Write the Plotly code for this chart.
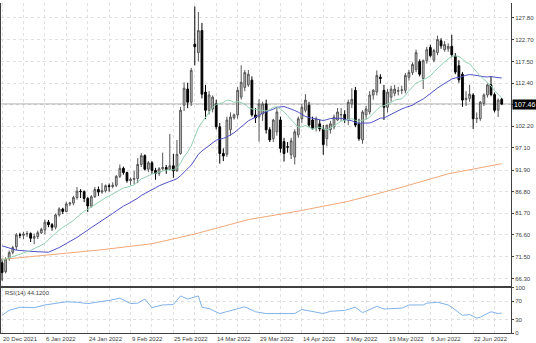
import plotly.graph_objects as go
import pandas as pd

# ---------------- data ----------------
opens = [70.0, 67.9, 71.0, 72.5, 73.8, 76.6, 76.5, 76.8, 76.9, 75.8,
         76.2, 77.1, 77.8, 79.6, 79.0, 78.4, 81.3, 82.7, 82.1, 83.9,
         84.1, 85.4, 86.9, 86.8, 85.2, 83.4, 85.6, 87.3, 86.7, 87.0,
         88.2, 88.0, 88.3, 90.4, 92.3, 91.3, 89.4, 89.7, 89.9, 93.2,
         95.3, 92.1, 93.6, 91.8, 91.1, 92.2, 92.5, 92.0, 92.9, 91.7,
         95.8, 107.2, 111.0, 107.9, 121.6, 119.6, 124.8, 110.3, 106.0, 106.3,
         107.5, 102.1, 95.8, 95.6, 101.4, 104.2, 104.9, 109.1, 111.4, 112.0,
         113.1, 104.9, 104.4, 105.1, 107.5, 101.4, 99.3, 100.9, 103.7, 98.6,
         97.4, 95.5, 95.0, 100.2, 104.0, 106.0, 107.2, 103.7, 101.9, 102.8,
         101.6, 99.3, 101.4, 102.1, 103.7, 104.9, 105.0, 103.7, 107.5, 110.7,
         102.8, 99.0, 104.9, 105.6, 109.6, 110.3, 113.8, 110.7, 106.7, 109.1,
         110.0, 110.5, 110.7, 110.7, 113.8, 114.9, 115.6, 117.5, 113.5, 117.7,
         120.8, 117.8, 119.6, 122.4, 120.3, 120.5, 121.1, 118.8, 116.5, 114.5,
         108.5, 108.8, 109.6, 104.0, 104.0, 107.6, 109.6, 112.0, 109.7, 106.0,
         108.6]
highs = [71.0, 71.3, 72.9, 74.0, 77.0, 77.1, 77.3, 77.5, 77.2, 76.9,
         77.6, 78.3, 80.2, 80.1, 79.4, 81.6, 83.1, 83.0, 84.4, 84.4,
         85.8, 87.9, 87.4, 87.1, 85.5, 86.0, 87.9, 88.0, 88.8, 88.5,
         88.7, 89.0, 90.7, 93.2, 92.7, 91.5, 90.1, 91.7, 94.7, 95.9,
         95.6, 94.0, 94.0, 92.4, 92.6, 96.0, 93.1, 100.4, 95.7, 99.0,
         106.8, 112.6, 112.5, 116.0, 130.5, 129.2, 126.6, 112.0, 110.5, 109.5,
         108.5, 103.0, 97.0, 104.5, 105.5, 105.2, 111.5, 116.6, 115.5, 115.5,
         114.0, 106.5, 108.6, 108.0, 108.5, 102.0, 104.0, 106.5, 104.5, 99.5,
         98.5, 99.5, 101.5, 104.5, 107.5, 109.8, 108.0, 104.5, 104.5, 103.8,
         102.5, 102.5, 103.5, 105.0, 106.5, 106.5, 106.0, 108.5, 111.2, 111.5,
         104.0, 106.0, 107.0, 110.5, 111.0, 115.4, 114.5, 112.0, 111.0, 111.8,
         112.0, 111.5, 111.8, 114.8, 115.5, 117.3, 120.3, 118.0, 118.0, 121.0,
         121.5, 120.5, 123.6, 123.0, 122.3, 121.8, 123.8, 119.5, 117.8, 115.0,
         110.5, 112.0, 110.0, 105.5, 108.2, 110.0, 112.3, 114.0, 110.2, 108.8,
         108.9]
lows = [65.8, 67.5, 70.5, 72.0, 73.0, 75.8, 75.6, 76.1, 74.9, 74.4,
        75.6, 76.8, 76.7, 78.4, 77.6, 77.9, 80.9, 81.5, 81.9, 83.4,
        83.6, 84.9, 85.3, 84.3, 82.0, 83.0, 85.3, 85.8, 86.3, 86.6,
        86.8, 87.6, 87.9, 90.0, 90.8, 88.9, 88.4, 88.5, 88.8, 92.6,
        91.8, 91.4, 91.0, 89.6, 90.5, 91.8, 91.0, 91.9, 90.1, 91.5,
        95.5, 105.8, 106.5, 107.0, 116.6, 117.5, 108.8, 103.9, 105.0, 105.5,
        101.5, 93.4, 94.0, 95.0, 100.0, 103.8, 104.0, 108.5, 110.5, 111.5,
        104.5, 103.0, 98.6, 103.5, 100.5, 98.5, 98.5, 100.0, 96.0, 93.9,
        96.0, 94.5, 93.2, 99.5, 103.0, 105.5, 102.0, 101.5, 101.0, 101.0,
        95.5, 97.5, 100.5, 101.5, 103.5, 103.5, 103.0, 102.5, 106.5, 102.0,
        98.8, 98.1, 104.0, 105.0, 108.5, 109.5, 112.3, 103.7, 105.5, 108.0,
        109.3, 109.5, 109.8, 110.0, 113.0, 114.3, 115.0, 114.0, 111.0, 117.0,
        118.5, 117.3, 119.0, 120.5, 119.8, 119.8, 118.5, 114.5, 112.5, 106.8,
        107.0, 108.0, 101.6, 103.0, 103.5, 107.0, 109.0, 109.3, 105.5, 104.4,
        107.2]
closes = [67.7, 70.9, 72.4, 73.6, 76.6, 76.5, 76.8, 76.9, 75.8, 76.2,
          77.1, 77.9, 79.6, 79.0, 78.4, 81.3, 82.7, 82.1, 83.9, 84.1,
          85.4, 86.9, 86.8, 85.2, 83.4, 85.6, 87.3, 86.7, 87.0, 88.2,
          88.0, 88.3, 90.4, 92.3, 91.3, 89.4, 89.7, 89.9, 93.2, 95.3,
          92.1, 93.6, 91.8, 91.1, 92.2, 92.5, 92.0, 92.9, 91.7, 95.6,
          106.0, 111.2, 107.9, 115.4, 121.0, 124.8, 109.8, 106.0, 109.6, 109.1,
          102.1, 95.8, 95.2, 103.7, 104.4, 104.9, 110.7, 112.6, 114.9, 114.5,
          104.9, 104.2, 107.5, 107.5, 101.4, 99.0, 103.7, 105.6, 97.0, 95.8,
          97.3, 98.8, 100.9, 104.0, 106.7, 108.4, 102.5, 101.6, 104.0, 101.6,
          97.9, 102.5, 102.8, 104.4, 105.6, 105.0, 103.7, 107.9, 108.6, 102.5,
          99.3, 105.6, 106.3, 109.6, 110.7, 114.2, 113.5, 106.7, 110.3, 111.0,
          111.0, 110.6, 110.8, 114.2, 114.9, 116.8, 119.6, 114.5, 117.7, 120.3,
          118.9, 120.1, 122.7, 121.2, 121.5, 121.1, 119.1, 115.0, 113.2, 108.4,
          108.8, 109.8, 104.0, 104.1, 107.9, 109.6, 112.0, 109.7, 106.0, 108.4,
          107.46]

fast_head_bars = [0, 4, 8, 12]
fast_head_vals = [70.6, 71.7, 72.9, 74.6]
slow_head_bars = [0, 4, 8, 13, 16, 21, 25]
slow_head_vals = [74.0, 73.0, 72.7, 72.5, 73.6, 76.0, 78.3]
# long moving average (orange)
long_bars = [0, 14, 28, 42, 54, 69, 83, 97, 111, 125, 140]
long_vals = [70.8, 71.9, 73.1, 74.5, 76.8, 80.2, 82.2, 84.5, 87.6, 91.0, 93.4]
# RSI(14)
rsi_bars = [0, 2, 5, 9, 12, 14, 18, 21, 24, 28, 30, 33, 36, 38, 40, 42, 45, 48, 50,
            52, 55, 56, 58, 61, 64, 68, 71, 74, 78, 82, 84, 87, 90, 92, 96, 99, 101,
            105, 107, 112, 114, 118, 119, 122, 125, 126, 129, 131, 133, 134, 137, 139, 140]
rsi_vals = [39, 50, 57, 56, 62, 64, 69, 68, 65, 70, 72, 77, 65, 66, 75, 56, 62, 63, 82,
            75, 82, 57, 54, 43, 50, 58, 47, 43, 43, 43, 52, 47, 43, 48, 50, 57, 45,
            59, 53, 55, 62, 62, 66, 68, 62, 57, 39, 41, 33, 35, 47, 43, 44.12]

price_tick_labels = ["66.30", "71.50", "76.60", "81.70", "86.80", "91.90", "97.10",
                     "102.20", "112.40", "117.50", "122.70", "127.80"]
hidden_grid_level = 107.30
rsi_tick_labels = ["0", "30", "70", "100"]
date_tick_bars = [0, 12, 24, 36, 48, 60, 72, 84, 96, 108, 120, 132]
date_labels = ["20 Dec 2021", "6 Jan 2022", "24 Jan 2022", "9 Feb 2022", "25 Feb 2022",
               "14 Mar 2022", "29 Mar 2022", "14 Apr 2022", "3 May 2022", "19 May 2022",
               "6 Jun 2022", "22 Jun 2022"]
rsi_caption = "RSI(14) 44.1200"

# ---------------- derived ----------------
n = len(closes)
bars = list(range(n))
s = pd.Series(closes)
sma14 = s.rolling(14).mean()
sma30 = s.rolling(30).mean()
fast_x = fast_head_bars + bars[13:]
fast_y = fast_head_vals + list(sma14[13:])
slow_x = slow_head_bars + bars[29:]
slow_y = slow_head_vals + list(sma30[29:])

FONT = "Liberation Sans"
AX = "#404040"
GRID = "#e0e0e0"

fig = go.Figure()
fig.add_trace(go.Scatter(x=long_bars, y=long_vals, mode="lines",
                         line=dict(color="#f2a878", width=1), xaxis="x", yaxis="y"))
fig.add_trace(go.Scatter(x=slow_x, y=slow_y, mode="lines",
                         line=dict(color="#5050c8", width=1), xaxis="x", yaxis="y"))
fig.add_trace(go.Scatter(x=fast_x, y=fast_y, mode="lines",
                         line=dict(color="#8fd0b0", width=1), xaxis="x", yaxis="y"))
fig.add_trace(go.Candlestick(
    x=bars, open=opens, high=highs, low=lows, close=closes,
    increasing=dict(line=dict(color="#555555", width=1), fillcolor="#cacaca"),
    decreasing=dict(line=dict(color="#000000", width=1), fillcolor="#000000"),
    whiskerwidth=0, xaxis="x", yaxis="y"))
fig.add_trace(go.Scatter(x=rsi_bars, y=rsi_vals, mode="lines",
                         line=dict(color="#7fb2ea", width=1), xaxis="x2", yaxis="y2"))

# current price line and label
last = closes[-1]
fig.add_shape(type="line", xref="paper", yref="y", x0=0, x1=1, y0=last, y1=last,
              line=dict(color="#9a9a9a", width=1), layer="below")
fig.add_annotation(xref="paper", yref="y", x=1, y=last, xanchor="left", yanchor="middle",
                   text=f"{last:.2f}", showarrow=False, bgcolor="#000000",
                   font=dict(family=FONT, size=7, color="#ffffff"), borderpad=1, xshift=1)

for b, lab in zip(date_tick_bars, date_labels):
    fig.add_annotation(xref="x", yref="paper", x=b, y=0, xanchor="left", yanchor="top",
                       text=lab, showarrow=False, xshift=-1, yshift=-1,
                       font=dict(family=FONT, size=6, color=AX))
fig.add_annotation(xref="paper", yref="paper", x=0.004, y=0.135, xanchor="left", yanchor="top",
                   text=rsi_caption, showarrow=False,
                   font=dict(family=FONT, size=6, color=AX))

ptv = [float(t) for t in price_tick_labels] + [hidden_grid_level]
ptt = price_tick_labels + [""]
xr = [-0.3, 142.6]
xgrid = list(range(0, n + 6, 6))

fig.update_layout(
    width=536, height=343, margin=dict(l=1, r=25, t=0, b=10),
    paper_bgcolor="white", plot_bgcolor="white", showlegend=False, hovermode=False,
    xaxis=dict(domain=[0, 1], anchor="y", range=xr, tickvals=xgrid, showticklabels=False,
               showgrid=True, gridcolor=GRID, griddash="dot", gridwidth=1,
               showline=True, linecolor=AX, linewidth=2, ticks="", zeroline=False,
               rangeslider=dict(visible=False)),
    yaxis=dict(domain=[0.141, 1], anchor="x", side="right", range=[64.42, 131.31],
               tickvals=ptv, ticktext=ptt, showgrid=True, gridcolor=GRID, griddash="dot",
               showline=True, mirror=True, linecolor=AX, linewidth=1,
               ticks="outside", ticklen=2, tickcolor=AX, zeroline=False,
               tickfont=dict(family=FONT, size=6, color=AX)),
    xaxis2=dict(domain=[0, 1], anchor="y2", range=xr, tickvals=xgrid, showticklabels=False,
                showgrid=True, gridcolor=GRID, griddash="dot", showline=True, mirror=True,
                linecolor=AX, linewidth=1, ticks="", zeroline=False),
    yaxis2=dict(domain=[0, 0.137], anchor="x2", side="right", range=[0, 100],
                tickvals=[float(t) for t in rsi_tick_labels], ticktext=rsi_tick_labels,
                showgrid=True, gridcolor=GRID, griddash="dot", showline=True, mirror=True,
                linecolor=AX, linewidth=1, ticks="outside", ticklen=2, tickcolor=AX,
                zeroline=False, tickfont=dict(family=FONT, size=6, color=AX)),
)

fig.write_html("out.html")
